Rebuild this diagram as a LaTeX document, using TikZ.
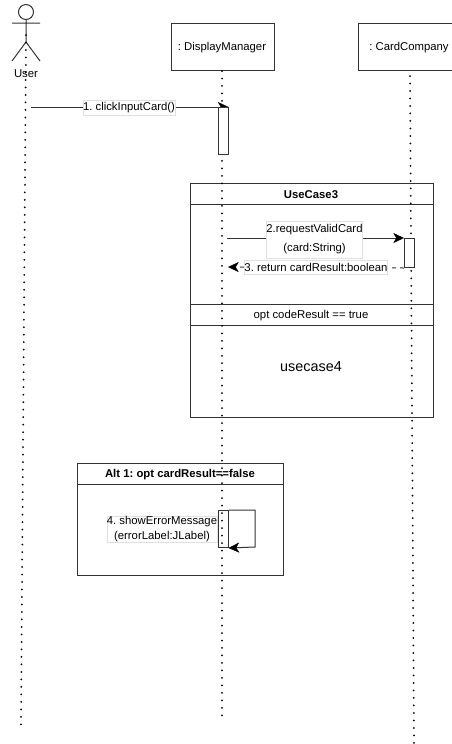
\documentclass[tikz,border=0pt]{standalone}
\usepackage{fontspec}
\setmainfont{Liberation Sans}
\usetikzlibrary{arrows.meta}
\frenchspacing
\tikzset{
  x=0.75pt,y=-0.75pt,
  lineblk/.style={draw=black!80,line width=0.75pt},
  lifeline/.style={draw=black,line width=1.5pt,line cap=round,dash pattern=on 0pt off 5.62pt},
  objbox/.style={lineblk,fill=white,anchor=north west,inner sep=0pt},
  msglabel/.style={fill=white,draw=black!12,line width=0.4pt,inner sep=0pt,align=center,font=\fontsize{8.5pt}{10.8pt}\selectfont},
  plain/.style={inner sep=0pt,yshift=-0.5pt,font=\fontsize{8.5pt}{11pt}\selectfont},
  titletext/.style={inner sep=0pt,yshift=-0.5pt,font=\fontsize{8.5pt}{11pt}\selectfont\bfseries},
  tip/.style={-{Stealth[length=8pt,width=7.5pt,inset=2.2pt,color=black,line width=0.3pt]}},
  msg/.style={lineblk,tip},
  frame/.style={lineblk,fill=white,anchor=north west,inner sep=0pt},
}
\begin{document}
\begin{tikzpicture}
\useasboundingbox (0,0) rectangle (452,744);
% frames
\node[frame,minimum width=182.25pt,minimum height=175.5pt] (uc) at (190,182.5) {};
\coordinate (ucl1) at (190,204); \coordinate (ucr1) at (433,204);
\coordinate (ucl2) at (190,304); \coordinate (ucr2) at (433,304);
\coordinate (ucl3) at (190,325); \coordinate (ucr3) at (433,325);
\draw[lineblk] (ucl1)--(ucr1) (ucl2)--(ucr2) (ucl3)--(ucr3);
\node[titletext] (uct) at (311,193.5) {UseCase3};
\node[plain] (opt) at (311,315) {opt codeResult == true};
\node[plain,font=\fontsize{10.8pt}{13pt}\selectfont] (uc4) at (311,366) {usecase4};
\node[frame,minimum width=154.5pt,minimum height=84pt] (alt) at (77,463) {};
\coordinate (altl) at (77,484); \coordinate (altr) at (283,484);
\draw[lineblk] (altl)--(altr);
\node[titletext] (altt) at (180,474) {Alt 1: opt cardResult==false};
% object boxes
\node[objbox,minimum width=77.25pt,minimum height=35.25pt] (dm) at (171,23) {};
\node[plain] (dmt) at (222,46.5) {: DisplayManager};
\node[objbox,minimum width=75pt,minimum height=35.25pt] (cc) at (358,23) {};
\node[plain] (cct) at (409,46.5) {: CardCompany};
% actor
\node[draw=black!80,line width=0.75pt,circle,minimum size=11.25pt,inner sep=0pt] (head) at (26,12) {};
\coordinate (hip) at (26,42); \coordinate (armL) at (12,23); \coordinate (armR) at (40,23);
\coordinate (legL) at (12,61); \coordinate (legR) at (40,61);
\draw[lineblk] (head.south)--(hip) (armL)--(armR) (legL)--(hip)--(legR);
\node[plain] (user) at (26,73) {User};
% lifelines
\coordinate (u0) at (26,35); \coordinate (u1) at (21,725);
\coordinate (d0) at (222,71); \coordinate (d1) at (222,716);
\coordinate (c0) at (410,76); \coordinate (c1) at (414,743);
\draw[lifeline] (u0)--(u1);
\draw[lifeline] (d0)--(d1);
\draw[lifeline] (c0)--(c1);
% activations and the messages that end on them
\node[inner sep=0pt,minimum width=7.5pt,minimum height=35.25pt,anchor=north west] (a1) at (218,107) {};
\coordinate (m1s) at (31,107);
\draw[msg] (m1s)--(a1.north east);
\draw[lineblk,fill=white] (a1.north west) rectangle (a1.south east);
\node[msglabel,minimum width=69pt,minimum height=11.25pt] (l1) at (129,107.5) {1. clickInputCard()};
\node[objbox,minimum width=7.5pt,minimum height=21.75pt] (a2) at (404,238) {};
\coordinate (m2s) at (227,238);
\draw[msg] (m2s)--(a2.north west);
\node[msglabel,minimum width=71.25pt,minimum height=27.75pt] (l2) at (314.5,239.5) {2.requestValidCard\\[3.4pt](card:String)};
\coordinate (m3e) at (228,267);
\draw[lineblk,dash pattern=on 3pt off 3pt,tip] (a2.south west)--(m3e);
\node[msglabel,minimum width=106.5pt,minimum height=10.5pt] (l3) at (316,267) {3. return cardResult:boolean};
\node[inner sep=0pt,minimum width=7.5pt,minimum height=27.75pt,anchor=north west,lineblk] (a3) at (217.5,510) {};
\coordinate (s1) at (255,510); \coordinate (s2) at (255,547);
\draw[msg] (a3.north east)--(s1)--(s2)--(a3.south east);
\node[msglabel,minimum width=82.5pt,minimum height=19.5pt] (l4) at (162,529) {4. showErrorMessage\\(errorLabel:JLabel)};
\end{tikzpicture}
\end{document}
